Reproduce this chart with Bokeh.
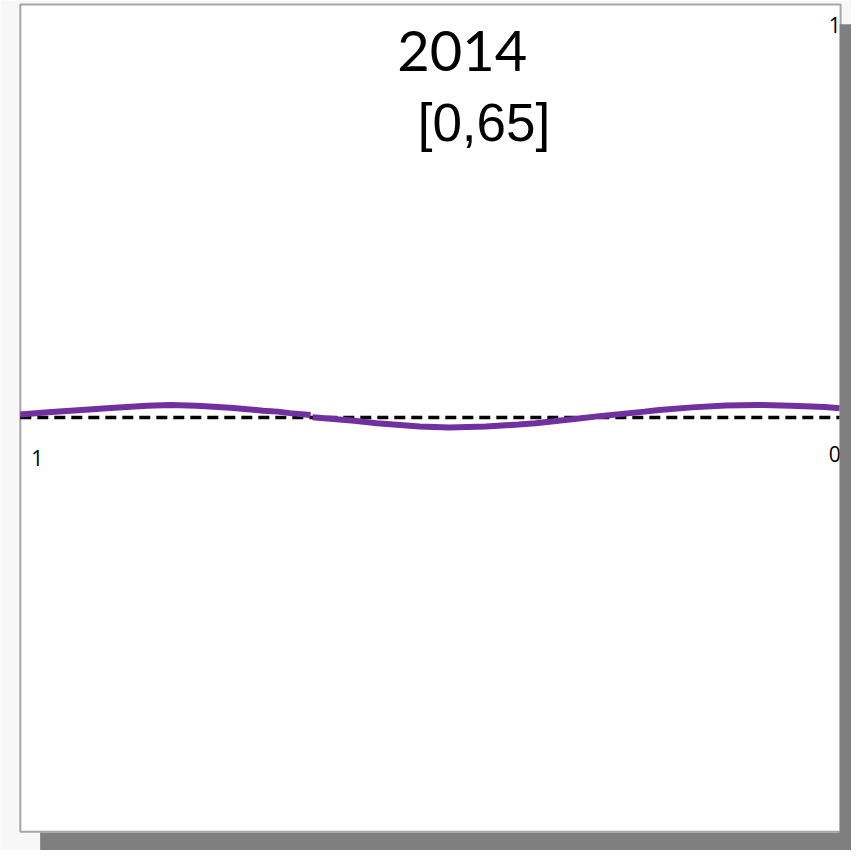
from bokeh.plotting import figure
from bokeh.models import Range1d
from bokeh.core.properties import value
from bokeh.embed import file_html
from bokeh.resources import INLINE

# ---- data ----
# purple curve, drawn as two segments (small step near the first crossing)
seg1_x = [0, 28, 62, 95, 128, 152, 178, 212, 245, 260, 272, 293]
seg1_y = [3.2, 5.3, 7.7, 10.0, 12.0, 12.7, 12.0, 10.0, 7.0, 6.0, 4.5, 2.7]
seg2_x = [295, 337, 360, 403, 433, 470, 503, 520, 557, 587, 630, 645, 678, 712, 745, 778, 812, 827]
seg2_y = [0.3, -3.3, -5.7, -9.0, -10.0, -9.0, -7.0, -5.7, -1.7, 1.7, 6.0, 7.7, 10.3, 12.2, 12.7, 12.0, 10.7, 9.3]
baseline_y = 0

title = "2014"
subtitle = "[0,65]"
corner_labels = ["1", "1", "0"]

# ---- figure ----
p = figure(width=851, height=850, output_backend="svg", toolbar_location=None,
           x_range=Range1d(-20, 839), y_range=Range1d(-437, 421),
           x_axis_type=None, y_axis_type=None, min_border=0)
p.grid.visible = False
p.outline_line_color = None
p.background_fill_color = "#f7f7f7"
p.border_fill_color = "#f7f7f7"

# panel (white card with thin grey border)
p.quad(left=[0], right=[828], top=[417], bottom=[-418],
       fill_color="white", line_color="#a6a6a6", line_width=2)

# dashed zero line
p.line(x=[seg1_x[0], seg2_x[-1]], y=[baseline_y, baseline_y],
       line_color="black", line_width=3.5, line_dash="11 6")

# purple curve
p.line(x=seg1_x, y=seg1_y, line_color="#7030A0", line_width=6)
p.line(x=seg2_x, y=seg2_y, line_color="#7030A0", line_width=6)

# titles
p.text(x=[446], y=[370], text=[title], text_font=value("Lato"),
       text_font_size="56px", text_align="center", text_baseline="alphabetic",
       text_color="black")
p.text(x=[468], y=[298], text=[subtitle], text_font=value("Liberation Sans"),
       text_font_size="53px", text_align="center", text_baseline="alphabetic",
       text_color="black")

# small corner labels
p.text(x=[822, 17, 816], y=[396, -41, -37], text=corner_labels,
       text_font=value("Open Sans"), text_font_size="21px",
       text_align=["center", "center", "left"], text_baseline="alphabetic",
       text_color="black")

# drop shadow (right and bottom)
p.quad(left=[827, 20], right=[845, 845], top=[397, -419], bottom=[-440, -440],
       fill_color="#7f7f7f", line_color=None)

open("out.html", "w").write(file_html(p, INLINE))
